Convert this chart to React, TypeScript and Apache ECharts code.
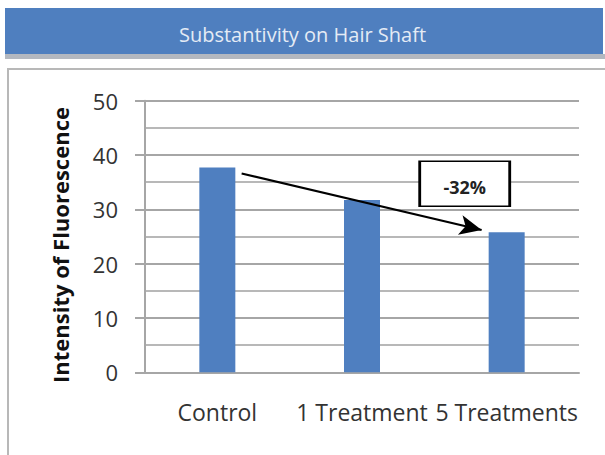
import React, { useEffect, useRef } from "react";
import * as echarts from "echarts";

const categories = ["Control", "1 Treatment", "5 Treatments"];
const values = [37.7, 31.7, 25.8];
const yTicks = [0, 10, 20, 30, 40, 50];
const titleText = "Substantivity on Hair Shaft";
const yName = "Intensity of Fluorescence";
const changeLabel = "-32%";
// annotation arrow in (category-position, value) units
const arrowStart = [0.668, 36.6];
const arrowEnd = [2.327, 26.2];
const boxCenter = [2.21, 34.7];

export default function App() {
  const ref = useRef<HTMLDivElement>(null);
  useEffect(() => {
    if (!ref.current) return;
    const chart = echarts.init(ref.current, null, { renderer: "svg" });
    const font = "'Open Sans', sans-serif";
    chart.setOption({
      animation: false,
      backgroundColor: "#ffffff",
      title: {
        text: titleText,
        left: "center",
        top: 19,
        textStyle: { color: "#e4ebf5", fontSize: 20, fontWeight: "normal", fontFamily: font },
      },
      graphic: [
        { type: "rect", z: -1, shape: { x: 5, y: 8, width: 598, height: 46 }, style: { fill: "#4f7fbf" } },
        { type: "rect", z: -1, shape: { x: 5, y: 54, width: 600, height: 5 }, style: { fill: "#b3b8c0" } },
        { type: "rect", z: -1, shape: { x: 8, y: 69, width: 700, height: 500 }, style: { fill: "none", stroke: "#b8b8b8", lineWidth: 2 } },
        {
          type: "text",
          x: 60,
          y: 245,
          rotation: Math.PI / 2,
          style: {
            text: yName,
            fill: "#111",
            font: "bold 22px 'Open Sans', sans-serif",
            align: "center",
            verticalAlign: "middle",
          },
        },
      ],
      grid: { left: 145, right: 26, top: 100.7, bottom: 82.7 },
      xAxis: [
        {
          type: "category",
          data: categories,
          axisLine: { show: true, lineStyle: { color: "#a6a6a6", width: 2 } },
          axisTick: { show: false },
          axisLabel: { color: "#333", fontSize: 23, fontFamily: font, margin: 28, interval: 0 },
        },
        { type: "value", min: 0, max: 3, show: false },
      ],
      yAxis: {
        type: "value",
        min: yTicks[0],
        max: yTicks[yTicks.length - 1],
        interval: 10,
        axisLine: { show: true, lineStyle: { color: "#a6a6a6", width: 2 } },
        axisTick: { show: true, length: 10, lineStyle: { color: "#a6a6a6", width: 2 } },
        axisLabel: { color: "#333", fontSize: 22, fontFamily: font, margin: 27 },
        splitLine: { show: true, lineStyle: { color: "#a6a6a6", width: 2 } },
        minorTick: { show: false, splitNumber: 2 },
        minorSplitLine: { show: true, lineStyle: { color: "#b8b8b8", width: 2 } },
      },
      series: [
        {
          type: "bar",
          data: values,
          barWidth: 36,
          itemStyle: { color: "#4f7fc0" },
        },
        {
          type: "line",
          xAxisIndex: 1,
          data: [],
          markLine: {
            silent: true,
            symbol: ["none", "arrow"],
            symbolSize: [15, 22],
            label: { show: false },
            lineStyle: { color: "#000", width: 2, type: "solid" },
            data: [[{ coord: arrowStart }, { coord: arrowEnd }]],
          },
          markPoint: {
            silent: true,
            symbol: "rect",
            symbolSize: [90, 45],
            itemStyle: { color: "#fff", borderColor: "#000", borderWidth: 2 },
            label: { show: true, formatter: changeLabel, color: "#222", fontSize: 18, fontWeight: "bold", fontFamily: font, offset: [0, 3] },
            data: [{ coord: boxCenter }],
          },
        },
      ],
    });
    return () => chart.dispose();
  }, []);
  return <div ref={ref} style={{ width: 605, height: 455, position: "absolute", left: 0, top: 0 }} />;
}
